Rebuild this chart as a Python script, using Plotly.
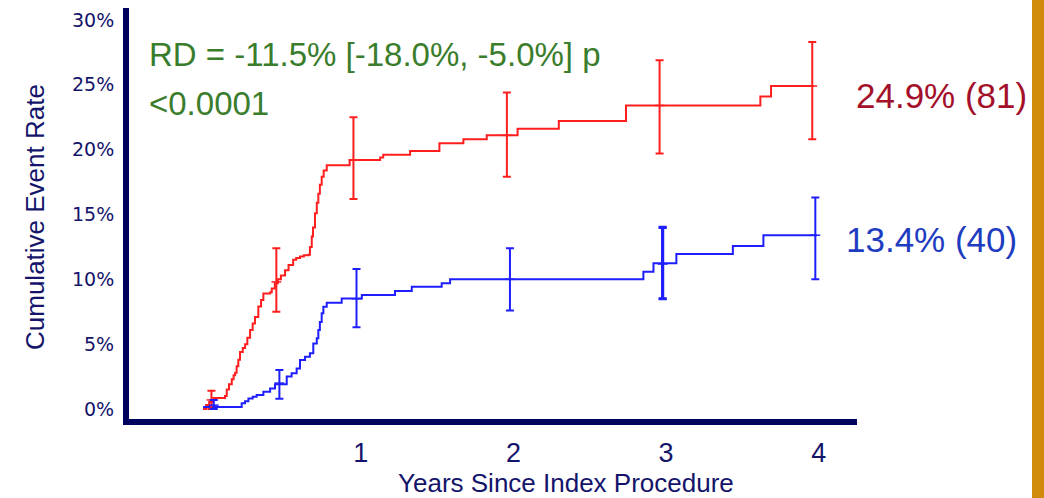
import plotly.graph_objects as go

# Kaplan-Meier style cumulative event curves (years, percent)
red_t = [0, 0.02, 0.04, 0.068, 0.144, 0.155, 0.17, 0.188, 0.20, 0.21, 0.22, 0.231, 0.242,
         0.26, 0.275, 0.29, 0.308, 0.325, 0.34, 0.362, 0.38, 0.395, 0.44, 0.45, 0.47, 0.49,
         0.51, 0.537, 0.56, 0.59, 0.61, 0.635, 0.66, 0.69, 0.70, 0.712, 0.72, 0.733, 0.745,
         0.755, 0.765, 0.777, 0.79, 0.81, 0.96, 1.16, 1.18, 1.356, 1.548, 1.705, 1.858,
         2.06, 2.33, 2.77, 3.65, 3.72, 4.0]
red_v = [0, 0.3, 0.55, 0.85, 1.0, 1.5, 1.9, 2.3, 2.6, 2.8, 3.3, 3.8, 4.4,
         4.7, 5.0, 5.5, 6.1, 6.6, 7.1, 7.9, 8.4, 8.9, 9.0, 9.3, 9.7, 10.0,
         10.3, 10.7, 11.1, 11.5, 11.65, 11.75, 11.85, 11.9, 12.5, 13.3, 14.0, 15.1, 15.9,
         16.6, 17.3, 17.9, 18.4, 18.8, 19.2, 19.4, 19.6, 19.9, 20.5, 20.8, 21.1,
         21.6, 22.2, 23.4, 24.1, 24.9, 24.9]

blue_t = [0, 0.253, 0.275, 0.297, 0.325, 0.351, 0.395, 0.439, 0.471, 0.548, 0.58, 0.613,
          0.635, 0.668, 0.70, 0.722, 0.745, 0.755, 0.765, 0.777, 0.788, 0.81, 0.908, 1.04,
          1.257, 1.367, 1.563, 1.618, 2.884, 2.95, 3.10, 3.47, 3.67, 4.02]
blue_v = [0.15, 0.45, 0.6, 0.82, 0.95, 1.08, 1.34, 1.59, 1.9, 2.5, 2.75, 3.13,
          3.78, 4.03, 4.29, 5.06, 5.45, 6.09, 6.7, 7.38, 7.89, 8.2, 8.53, 8.79,
          9.1, 9.43, 9.69, 10.0, 10.59, 11.23, 11.95, 12.57, 13.4, 13.4]

# Confidence intervals at landmark times
red_ci_t = [0.055, 0.48, 0.985, 1.99, 2.99, 3.99]
red_ci_mid = [0.7, 9.8, 19.2, 21.1, 23.4, 24.9]
red_ci_hi = [1.4, 12.4, 22.5, 24.4, 26.9, 28.3]
red_ci_lo = [0.0, 7.5, 16.2, 17.9, 19.7, 20.8]

blue_ci_t = [0.07, 0.5, 1.005, 2.01, 3.01, 4.01]
blue_ci_mid = [0.3, 2.0, 8.5, 10.0, 11.2, 13.4]
blue_ci_hi = [0.7, 3.0, 10.8, 12.4, 14.0, 16.3]
blue_ci_lo = [0.0, 0.8, 6.3, 7.6, 8.5, 10.0]
blue_bold_idx = 4  # the 3-year interval is drawn heavier

y_ticks = [0, 5, 10, 15, 20, 25, 30]
y_tick_text = ["0%", "5%", "10%", "15%", "20%", "25%", "30%"]
x_ticks = [1, 2, 3, 4]
x_tick_text = ["1", "2", "3", "4"]

red_label = "24.9% (81)"
blue_label = "13.4% (40)"
rd_line1 = "RD = -11.5% [-18.0%, -5.0%] p"
rd_line2 = "<0.0001"
x_title = "Years Since Index Procedure"
y_title = "Cumulative Event Rate"

NAVY = "#00005E"
TICK_NAVY = "#14146B"
RED = "#FF1E1E"
BLUE = "#1E1EFF"
SANS = "Liberation Sans, Arial, sans-serif"

fig = go.Figure()

fig.add_trace(go.Scatter(x=red_t, y=red_v, mode="lines", line_shape="hv",
                         line=dict(color=RED, width=2), hoverinfo="skip"))
fig.add_trace(go.Scatter(x=blue_t, y=blue_v, mode="lines", line_shape="hv",
                         line=dict(color=BLUE, width=2), hoverinfo="skip"))


def ci_trace(t, mid, hi, lo, color, thickness=2):
    return go.Scatter(
        x=t, y=mid, mode="markers",
        marker=dict(symbol="line-ew", size=7, color=color, line=dict(color=color, width=1.5)),
        error_y=dict(type="data", symmetric=False,
                     array=[h - m for h, m in zip(hi, mid)],
                     arrayminus=[m - l for m, l in zip(mid, lo)],
                     color=color, thickness=thickness, width=4),
        hoverinfo="skip")


fig.add_trace(ci_trace(red_ci_t, red_ci_mid, red_ci_hi, red_ci_lo, RED))
fig.add_trace(ci_trace(blue_ci_t, blue_ci_mid, blue_ci_hi, blue_ci_lo, BLUE))
i = blue_bold_idx
fig.add_trace(ci_trace(blue_ci_t[i:i + 1], blue_ci_mid[i:i + 1], blue_ci_hi[i:i + 1],
                       blue_ci_lo[i:i + 1], BLUE, thickness=3.2))

plot_l, plot_r, plot_t, plot_b = 129, 857, 8, 419

fig.update_layout(
    width=1044, height=498,
    margin=dict(l=plot_l, r=1044 - plot_r, t=plot_t, b=498 - plot_b),
    plot_bgcolor="white", paper_bgcolor="white",
    showlegend=False,
    xaxis=dict(range=[-0.485, 4.283], showgrid=False, zeroline=False, automargin=False,
               showline=True, linecolor=NAVY, linewidth=6,
               tickvals=x_ticks, ticktext=x_tick_text, ticks="",
               tickfont=dict(family=SANS, size=27, color=TICK_NAVY),
               ticklabelstandoff=5, ticklabelshift=5),
    yaxis=dict(range=[-0.77, 30.92], showgrid=False, zeroline=False, automargin=False,
               showline=True, linecolor=NAVY, linewidth=6,
               tickvals=y_ticks, ticktext=y_tick_text, ticks="",
               tickfont=dict(family="DejaVu Sans, Verdana", size=19, color=TICK_NAVY),
               ticklabelstandoff=5),
)


def px_x(px):
    return (px - plot_l) / (plot_r - plot_l)


def px_y(py):
    return (plot_b - py) / (plot_b - plot_t)


def label(x, y, text, font, **kw):
    fig.add_annotation(x=px_x(x), y=px_y(y), xref="paper", yref="paper", text=text,
                       showarrow=False, font=font, **kw)


green_font = dict(family=SANS, size=33, color="#3A7D2C")
label(147, 34, rd_line1, green_font, xanchor="left", yanchor="top")
label(147, 83, rd_line2, green_font, xanchor="left", yanchor="top")
label(854, 74, red_label, dict(family=SANS, size=35, color="#A3102A"),
      xanchor="left", yanchor="top")
label(844, 218, blue_label, dict(family=SANS, size=35, color="#1E3CC0"),
      xanchor="left", yanchor="top")

# axis titles
label(566, 466, x_title, dict(family=SANS, size=26, color=TICK_NAVY),
      xanchor="center", yanchor="top")
label(35, 217, y_title, dict(family=SANS, size=26, color=TICK_NAVY),
      xanchor="center", yanchor="middle", textangle=-90)

# orange edge strip on the right of the slide
fig.add_shape(type="rect", xref="paper", yref="paper",
              x0=px_x(1032), x1=px_x(1045), y0=px_y(-2), y1=px_y(500),
              fillcolor="#D28A0C", line=dict(width=0), layer="above")

fig.write_html("out.html")
